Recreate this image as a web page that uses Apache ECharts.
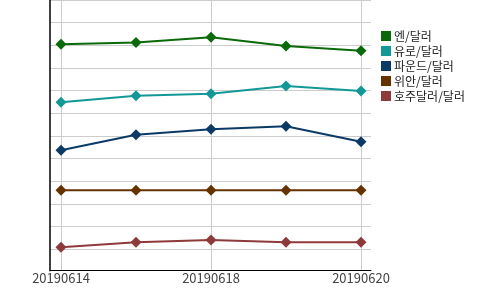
<!DOCTYPE html>
<html><head><meta charset="utf-8">
<script src="https://cdn.jsdelivr.net/npm/echarts@6/dist/echarts.min.js"></script>
<style>html,body{margin:0;padding:0;background:#fff}#c{width:500px;height:290px}</style>
</head><body><div id="c"></div>
<script>
const categories = ['20190614','20190617','20190618','20190619','20190620'];
const seriesNames = ['엔/달러','유로/달러','파운드/달러','위안/달러','호주달러/달러'];
const yen = [9.99, 10.07, 10.30, 9.91, 9.70];
const euro = [7.43, 7.72, 7.81, 8.15, 7.93];
const pound = [5.31, 6.00, 6.24, 6.37, 5.69];
const yuan = [3.55, 3.55, 3.55, 3.55, 3.55];
const aud = [1.03, 1.25, 1.35, 1.25, 1.25];
const colors = ['#0a6a0a','#139898','#0b3a66','#663300','#8e3a3a'];
const values = [yen, euro, pound, yuan, aud];
const yMax = 11.94;
const FONT = 'Noto Sans CJK KR';

const chart = echarts.init(document.getElementById('c'), null, {renderer:'canvas'});
chart.setOption({
  animation:false,
  color: colors,
  legend:{
    orient:'vertical', left:376, top:25, icon:'rect', itemWidth:10, itemHeight:10, itemGap:3,
    textStyle:{fontFamily:FONT, fontSize:12, color:'#222', padding:[0,0,0,-2]},
    data: seriesNames
  },
  grid:[
    {left:50, right:129, top:0, bottom:19.3, containLabel:false},
    {left:61, right:139, top:0, bottom:19.3, containLabel:false}
  ],
  xAxis:[
    {gridIndex:0, type:'value', min:0, max:1, axisLine:{show:true, onZero:false, lineStyle:{color:'#000', width:1}},
     axisTick:{show:false}, axisLabel:{show:false}, splitLine:{show:false}},
    {gridIndex:1, type:'category', data:categories, boundaryGap:false,
     axisLine:{show:false}, axisTick:{show:false},
     axisLabel:{interval:1, color:'#444', fontFamily:FONT, fontSize:13, margin:1},
     splitLine:{show:true, lineStyle:{color:'#cccccc', width:1}}}
  ],
  yAxis:[
    {gridIndex:0, type:'value', inverse:true, min:0, max:yMax, interval:1,
     axisLine:{show:true, onZero:false, lineStyle:{color:'#000', width:1.5}},
     axisTick:{show:false}, axisLabel:{show:false},
     splitLine:{show:true, lineStyle:{color:'#cccccc', width:1}}},
    {gridIndex:1, type:'value', min:0, max:yMax,
     axisLine:{show:false}, axisTick:{show:false}, axisLabel:{show:false}, splitLine:{show:false}}
  ],
  series: seriesNames.map((n,i)=>({
    name:n, type:'line', xAxisIndex:1, yAxisIndex:1, data:values[i],
    symbol:'diamond', symbolSize:11, showSymbol:true,
    lineStyle:{width:2, color:colors[i]}, itemStyle:{color:colors[i]}
  }))
});
</script></body></html>
